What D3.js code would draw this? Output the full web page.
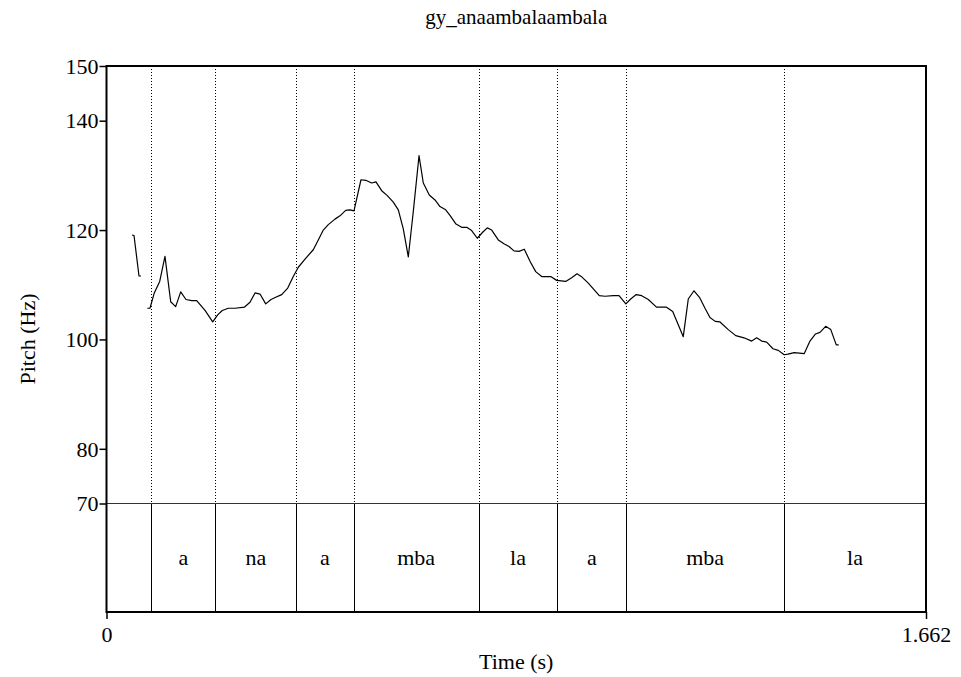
<!DOCTYPE html>
<html><head><meta charset="utf-8">
<script src="https://cdn.jsdelivr.net/npm/d3@7"></script>
<style>
body{margin:0;background:#fff}
</style>
</head><body>
<svg id="chart" width="961" height="677"></svg>
<script>
// ---- data ----
const chartTitle = "gy_anaambalaambala";
const xLabel = "Time (s)";
const yLabel = "Pitch (Hz)";
const timeRange = [0, 1.662];
const pitchRange = [70, 150];
const yTickValues = [70, 80, 100, 120, 140, 150];
const xTickValues = [0, 1.662];
const tierBoundaries = [0.0909, 0.2206, 0.3849, 0.5013, 0.7548, 0.9142, 1.0541, 1.3740];
const tierLabels = ["", "a", "na", "a", "mba", "la", "a", "mba", "la"];

// pitch contour, voiced stretch 1
const seg1Time = [0.0517, 0.0558, 0.0659, 0.0700];
const seg1Hz   = [119.1, 119.0, 111.6, 111.6];
// pitch contour, voiced stretch 2
const seg2Time = [0.0827,0.0882,0.0969,0.1079,0.1186,0.1302,0.1403,0.1505,0.1612,0.1728,0.1829,0.1998,0.2154,0.2255,0.2348,0.2470,0.2606,0.2795,0.2910,0.3012,0.3113,0.3229,0.3336,0.3431,0.3553,0.3675,0.3788,0.3890,0.4026,0.4194,0.4295,0.4397,0.4498,0.4634,0.4735,0.4851,0.4938,0.5019,0.5161,0.5257,0.5378,0.5465,0.5581,0.5695,0.5816,0.5918,0.6019,0.6121,0.6222,0.6338,0.6425,0.6546,0.6662,0.6763,0.6879,0.6966,0.7088,0.7203,0.7305,0.7406,0.7520,0.7629,0.7723,0.7812,0.7946,0.8061,0.8163,0.8264,0.8366,0.8473,0.8589,0.8704,0.8826,0.9008,0.9130,0.9313,0.9434,0.9542,0.9643,0.9771,0.9887,0.9994,1.0110,1.0278,1.0394,1.0533,1.0631,1.0744,1.0854,1.0988,1.1154,1.1357,1.1483,1.1596,1.1697,1.1799,1.1915,1.2026,1.2138,1.2239,1.2344,1.2442,1.2610,1.2762,1.2929,1.3085,1.3186,1.3288,1.3389,1.3517,1.3624,1.3744,1.3821,1.3947,1.4149,1.4267,1.4379,1.4470,1.4585,1.4689,1.4800,1.4849];
const seg2Hz = [105.7,105.7,108.5,110.6,115.2,106.9,106.0,108.7,107.3,107.1,107.1,105.3,103.2,104.5,105.3,105.7,105.7,105.9,106.8,108.5,108.3,106.5,107.3,107.7,108.2,109.4,111.5,113.2,114.7,116.4,118.2,120.0,121.0,122.0,122.6,123.6,123.7,123.5,129.2,129.1,128.6,128.8,127.2,126.3,125.1,123.7,120.2,115.1,123.4,133.6,128.6,126.4,125.5,124.3,123.7,122.7,121.1,120.5,120.5,119.9,118.5,119.6,120.4,120.0,118.2,117.5,117.0,116.2,116.1,116.5,114.3,112.4,111.5,111.5,110.8,110.6,111.3,112.0,111.4,110.3,109.1,108.0,107.9,108.0,108.0,106.5,107.4,108.2,108.0,107.3,105.9,105.9,105.1,102.7,100.5,107.4,108.9,107.7,105.7,104.0,103.3,103.2,101.8,100.7,100.3,99.7,100.3,99.7,99.5,98.3,98.0,97.2,97.3,97.6,97.4,99.7,101.0,101.3,102.4,101.8,99.0,99.0];

// ---- layout ----
const FONT = "'Liberation Serif', 'Times New Roman', Tinos, 'DejaVu Serif', serif";
const svg = d3.select("#chart");
const L = 106.5, R = 926, T = 66, pitchBottom = 503.5, tierBottom = 612;
const x = d3.scaleLinear().domain(timeRange).range([L, R]);
const y = d3.scaleLinear().domain(pitchRange).range([pitchBottom, T]);
const font = 22;

// title
svg.append("text").attr("x", (L + R) / 2).attr("y", 24)
  .attr("text-anchor", "middle").style("font-family", FONT).style("font-size", "21px").text(chartTitle);

// dotted boundary lines in pitch area
svg.append("g").selectAll("line").data(tierBoundaries).join("line")
  .attr("x1", d => Math.round(x(d)) + 0.5).attr("x2", d => Math.round(x(d)) + 0.5)
  .attr("y1", T).attr("y2", pitchBottom)
  .attr("stroke", "#000").attr("stroke-width", 1).attr("stroke-dasharray", "1,2");

// tier solid boundaries
svg.append("g").selectAll("line").data(tierBoundaries).join("line")
  .attr("x1", d => Math.round(x(d)) + 0.5).attr("x2", d => Math.round(x(d)) + 0.5)
  .attr("y1", pitchBottom).attr("y2", tierBottom)
  .attr("stroke", "#000").attr("stroke-width", 1);

// tier labels
const edges = [timeRange[0], ...tierBoundaries, timeRange[1]];
svg.append("g").selectAll("text").data(tierLabels).join("text")
  .attr("x", (d, i) => (x(edges[i]) + x(edges[i + 1])) / 2)
  .attr("y", 565).attr("text-anchor", "middle")
  .style("font-family", FONT).style("font-size", font + "px")
  .text(d => d);

// separator line between pitch and tier
svg.append("line").attr("x1", L).attr("x2", R)
  .attr("y1", pitchBottom).attr("y2", pitchBottom)
  .attr("stroke", "#333").attr("stroke-width", 1.2);

// pitch contour
const line = d3.line().x(d => x(d[0])).y(d => y(d[1]));
[[seg1Time, seg1Hz], [seg2Time, seg2Hz]].forEach(([ts, hs]) => {
  svg.append("path").datum(ts.map((t, i) => [t, hs[i]]))
    .attr("d", line).attr("fill", "none").attr("stroke", "#000")
    .attr("stroke-width", 1.2).attr("stroke-linejoin", "round");
});

// frame
svg.append("rect").attr("x", L).attr("y", T)
  .attr("width", R - L).attr("height", tierBottom - T)
  .attr("fill", "none").attr("stroke", "#000").attr("stroke-width", 2);

// y axis ticks
const yAxis = d3.axisLeft(y).tickValues(yTickValues).tickSize(7).tickPadding(1).tickFormat(d3.format("d"));
const gy = svg.append("g").attr("transform", `translate(${L},0)`).call(yAxis);
gy.select(".domain").remove();
gy.selectAll(".tick line").attr("stroke", "#000").attr("stroke-width", 1.5);
gy.selectAll(".tick text").style("font-size", font + "px")
  .style("font-family", FONT).attr("fill", "#000")
  .attr("dy", "0.33em");

// x axis ticks
const xAxis = d3.axisBottom(x).tickValues(xTickValues).tickSize(7).tickPadding(7.5)
  .tickFormat(d => d === 0 ? "0" : d3.format(".3f")(d));
const gx = svg.append("g").attr("transform", `translate(0,${tierBottom})`).call(xAxis);
gx.select(".domain").remove();
gx.selectAll(".tick line").attr("stroke", "#000").attr("stroke-width", 1.5);
gx.selectAll(".tick text").style("font-size", font + "px")
  .style("font-family", FONT).attr("fill", "#000");

// axis titles
svg.append("text").attr("x", (L + R) / 2).attr("y", 669)
  .attr("text-anchor", "middle").style("font-family", FONT).style("font-size", font + "px").text(xLabel);
svg.append("text").attr("transform", `translate(35,${(T + tierBottom) / 2}) rotate(-90)`)
  .attr("text-anchor", "middle").style("font-family", FONT).style("font-size", font + "px").text(yLabel);
</script>
</body></html>
